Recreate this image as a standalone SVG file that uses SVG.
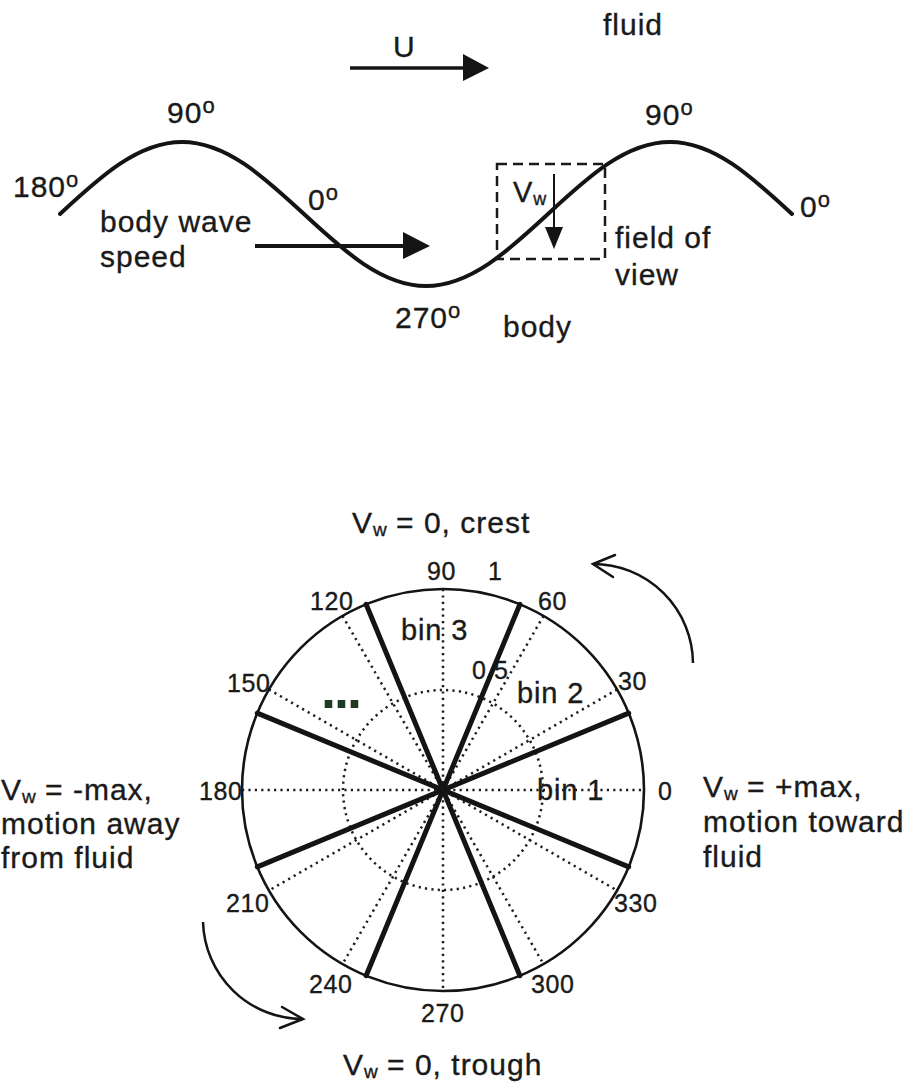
<svg xmlns="http://www.w3.org/2000/svg" width="913" height="1086" viewBox="0 0 913 1086">
<defs>
<style>
.t{font-family:"Liberation Sans",Arial,Helvetica,sans-serif;font-size:30px;letter-spacing:1px;fill:#1a1a1a;stroke:#1a1a1a;stroke-width:0.35px}
.n{font-size:25px;letter-spacing:0.6px}
.bin{font-size:29px;letter-spacing:0.9px}
.sub{font-size:19px;letter-spacing:0}
.deg{font-size:22px;letter-spacing:0}
.ln{stroke:#141414;fill:none}
.dot{stroke:#1e1e1e;stroke-width:2.5;stroke-dasharray:2.2 4.2;fill:none}
.thick{stroke:#141414;stroke-width:5;stroke-linecap:round;fill:none}
.head{fill:#141414}
</style>
</defs>
<rect width="913" height="1086" fill="#fff"/>

<!-- ===== Top panel: body wave ===== -->
<g id="body-wave">
<path class="ln" stroke-width="4" stroke-linecap="round" d="M60,214 C99.8,177.1 137.9,142 182,142 C226.1,142 264.2,177.1 304,214 C343.8,250.9 381.9,286 426,286 C470.1,286 508.2,250.9 548,214 C587.8,177.1 625.9,142 670,142 C714.1,142 752.2,177.1 792,214"/>
</g>

<g id="field-of-view">
<rect x="497" y="164" width="108" height="95" fill="none" stroke="#1a1a1a" stroke-width="2.5" stroke-dasharray="10 6"/>
</g>

<g id="connectors">
<!-- U arrow -->
<line class="ln" x1="350" y1="68" x2="465" y2="68" stroke-width="3.5"/>
<polygon class="head" points="463,54 489,68 463,81"/>
<!-- body wave speed arrow -->
<line class="ln" x1="255" y1="246" x2="405" y2="246" stroke-width="4"/>
<polygon class="head" points="403,232 430,246 403,259"/>
<!-- Vw arrow -->
<line class="ln" x1="554" y1="174" x2="554" y2="230" stroke-width="2"/>
<polygon class="head" points="545,227 554,249 563,227"/>
<!-- rotation arrows around polar plot -->
<path class="ln" stroke-width="2.5" d="M693,663 A100,100 0 0 0 593,564"/>
<path class="ln" stroke-width="2.5" stroke-linecap="round" d="M615,555 L593,564 L613,577"/>
<path class="ln" stroke-width="2.5" d="M203,922 A100,100 0 0 0 303,1019"/>
<path class="ln" stroke-width="2.5" stroke-linecap="round" d="M282,1007 L303,1019 L280,1028"/>
</g>

<g id="top-labels">
<text class="t" x="393" y="57">U</text>
<text class="t" x="603" y="35">fluid</text>
<text class="t" x="167" y="123">90<tspan class="deg" dy="-10">o</tspan></text>
<text class="t" x="13" y="197">180<tspan class="deg" dy="-10">o</tspan></text>
<text class="t" x="308" y="210">0<tspan class="deg" dy="-10">o</tspan></text>
<text class="t" x="100" y="232">body wave</text>
<text class="t" x="100" y="267">speed</text>
<text class="t" x="395" y="328">270<tspan class="deg" dy="-10">o</tspan></text>
<text class="t" x="645" y="125">90<tspan class="deg" dy="-10">o</tspan></text>
<text class="t" x="800" y="217">0<tspan class="deg" dy="-10">o</tspan></text>
<text class="t" x="513" y="202" style="font-size:29px">V<tspan class="sub" style="font-size:18px" dy="3">w</tspan></text>
<text class="t" x="615" y="248">field of</text>
<text class="t" x="615" y="285">view</text>
<text class="t" x="503" y="337">body</text>
</g>

<!-- ===== Bottom panel: polar phase plot ===== -->
<g id="polar-labels">
<text class="t n" x="427" y="580">90</text>
<text class="t n" x="488" y="580">1</text>
<text class="t n" x="310" y="610">120</text>
<text class="t n" x="538" y="610">60</text>
<text class="t n" x="227" y="692">150</text>
<text class="t n" x="618" y="690">30</text>
<text class="t n" x="199" y="800">180</text>
<text class="t n" x="658" y="800">0</text>
<text class="t n" x="226" y="912">210</text>
<text class="t n" x="614" y="912">330</text>
<text class="t n" x="309" y="993">240</text>
<text class="t n" x="531" y="993">300</text>
<text class="t n" x="421" y="1022">270</text>
<text class="t n" x="472" y="679">0.5</text>
<text class="t bin" x="401" y="640">bin 3</text>
<text class="t bin" x="517" y="703">bin 2</text>
<text class="t bin" x="537" y="800">bin 1</text>
<text class="t" x="321" y="708" style="font-size:54px;font-weight:bold;letter-spacing:-2px;fill:#1f3a22;stroke:none">...</text>
</g>

<g id="polar-grid">
<circle class="dot" cx="443" cy="790" r="100"/>
<line class="dot" x1="242" y1="790" x2="644" y2="790"/>
<line class="dot" x1="268.9" y1="689.5" x2="617.1" y2="890.5"/>
<line class="dot" x1="342.5" y1="615.9" x2="543.5" y2="964.1"/>
<line class="dot" x1="443" y1="589" x2="443" y2="991"/>
<line class="dot" x1="543.5" y1="615.9" x2="342.5" y2="964.1"/>
<line class="dot" x1="617.1" y1="689.5" x2="268.9" y2="890.5"/>
<circle cx="443" cy="790" r="201" fill="none" stroke="#141414" stroke-width="2.6"/>
</g>

<g id="bin-boundaries">
<line class="thick" x1="628.7" y1="713.1" x2="257.3" y2="866.9"/>
<line class="thick" x1="519.9" y1="604.3" x2="366.1" y2="975.7"/>
<line class="thick" x1="366.1" y1="604.3" x2="519.9" y2="975.7"/>
<line class="thick" x1="257.3" y1="713.1" x2="628.7" y2="866.9"/>
</g>

<g id="state-labels">
<text class="t" x="352" y="533">V<tspan class="sub" dy="3">w</tspan><tspan dy="-3"> = 0, crest</tspan></text>
<text class="t" x="343" y="1075">V<tspan class="sub" dy="3">w</tspan><tspan dy="-3"> = 0, trough</tspan></text>
<text class="t" x="1" y="800">V<tspan class="sub" dy="3">w</tspan><tspan dy="-3"> = -max,</tspan></text>
<text class="t" x="1" y="834">motion away</text>
<text class="t" x="1" y="868">from fluid</text>
<text class="t" x="703" y="797">V<tspan class="sub" dy="3">w</tspan><tspan dy="-3"> = +max,</tspan></text>
<text class="t" x="703" y="832">motion toward</text>
<text class="t" x="703" y="867">fluid</text>
</g>
</svg>
